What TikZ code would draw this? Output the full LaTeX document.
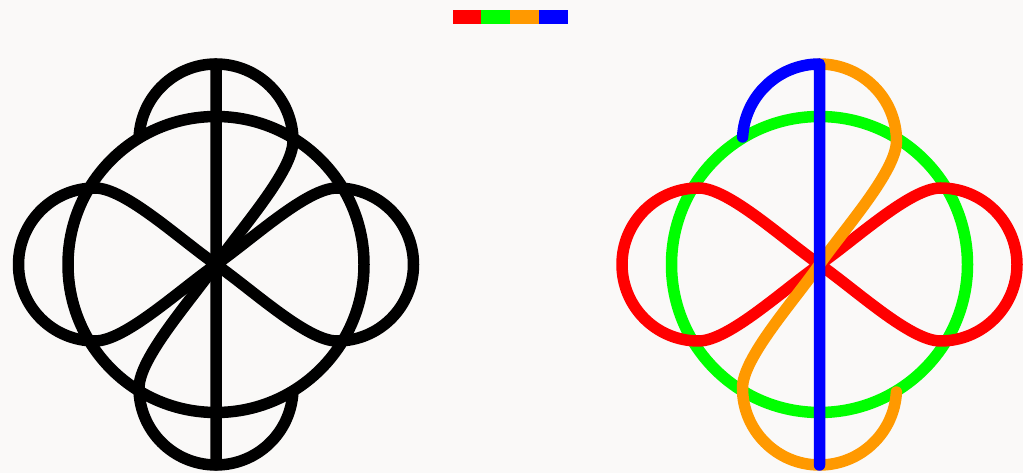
\documentclass[tikz,border=0pt]{standalone}
\definecolor{bg}{RGB}{250,249,248}
\definecolor{kred}{RGB}{255,0,0}
\definecolor{kgreen}{RGB}{0,255,0}
\definecolor{korange}{RGB}{255,153,0}
\definecolor{kblue}{RGB}{0,0,255}
\tikzset{
  strand/.style={line width=11.5pt, line cap=round, line join=round},
  swatch/.style={draw=none}
}
\newcommand\knotfigure[4]{%
  \draw[strand,#2] (0,0) circle[radius=148];
  \draw[strand,#1] (0,0) .. controls (36.9,25.8) and (91,76.5) .. (121,76.5)
     arc[start angle=90,end angle=-90,radius=76.5]
     .. controls (91,-76.5) and (36.9,-25.8) .. (0,0)
     .. controls (-36.9,25.8) and (-91,76.5) .. (-121,76.5)
     arc[start angle=90,end angle=270,radius=76.5]
     .. controls (-91,-76.5) and (-36.9,-25.8) .. cycle;
  \draw[strand,#3] (0,200.5) arc[start angle=90,end angle=0,radius=77]
     .. controls (77,93.5) and (25.8,36.9) .. (0,0)
     .. controls (-25.8,-36.9) and (-77,-93.5) .. (-77,-123.5)
     arc[start angle=180,end angle=357,radius=77];
  \draw[strand,#4] (0,-200.5) -- (0,200.5) arc[start angle=90,end angle=177,radius=77];
}
\begin{document}
\begin{tikzpicture}[x=1pt,y=1pt]
  \fill[bg] (0,0) rectangle (1023,473);
  \useasboundingbox (0,0) rectangle (1023,473);
  % colour key
  \fill[kred]    (452.5,449) rectangle (481.3,463);
  \fill[kgreen]  (481.3,449) rectangle (510.1,463);
  \fill[korange] (510.1,449) rectangle (538.9,463);
  \fill[kblue]   (538.9,449) rectangle (567.7,463);
  % black diagram
  \begin{scope}[shift={(216,208.5)}]
    \knotfigure{black}{black}{black}{black}
  \end{scope}
  % coloured diagram
  \begin{scope}[shift={(819.5,208.5)}]
    \knotfigure{kred}{kgreen}{korange}{kblue}
  \end{scope}
\end{tikzpicture}
\end{document}
